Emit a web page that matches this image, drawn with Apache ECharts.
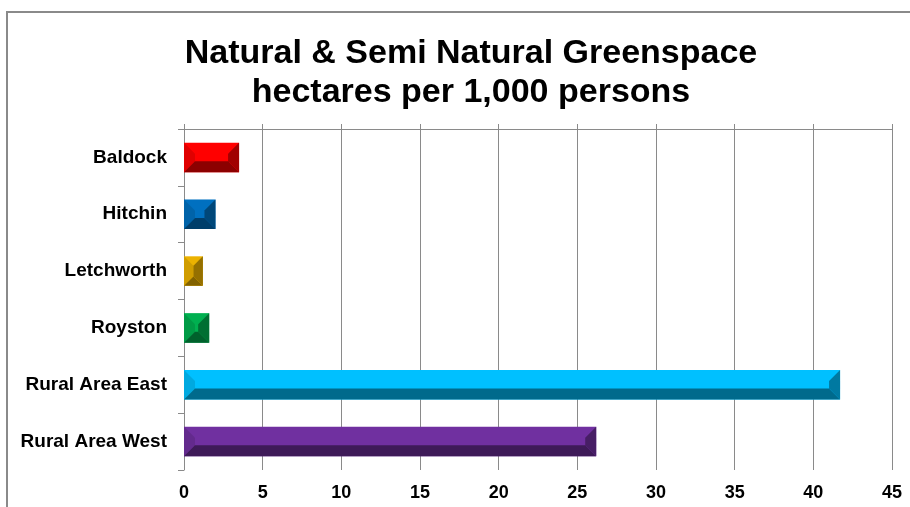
<!DOCTYPE html>
<html>
<head>
<meta charset="utf-8">
<script src="https://cdn.jsdelivr.net/npm/echarts@6/dist/echarts.min.js"></script>
<style>
  html, body { margin: 0; padding: 0; background: #fff; }
  #chart { width: 910px; height: 507px; }
</style>
</head>
<body>
<div id="chart"></div>
<script>
// hectares per 1,000 persons
const categories = ['Baldock', 'Hitchin', 'Letchworth', 'Royston', 'Rural Area East', 'Rural Area West'];
const values = [3.5, 2.0, 1.2, 1.6, 41.7, 26.2];
const xTicks = [0, 5, 10, 15, 20, 25, 30, 35, 40, 45];

const palette = ['#ff0000', '#0070c0', '#ecb200', '#00b050', '#00c0ff', '#7030a0'];

// darken a hex colour by factor k
function shade(hex, k) {
    const n = parseInt(hex.slice(1), 16);
    const r = Math.round(((n >> 16) & 255) * k);
    const g = Math.round(((n >> 8) & 255) * k);
    const b = Math.round((n & 255) * k);
    return `rgb(${r}, ${g}, ${b})`;
}

const chart = echarts.init(document.getElementById('chart'));

chart.setOption({
    backgroundColor: '#fff',
    animation: false,
    textStyle: { fontFamily: 'Liberation Sans, Arial, sans-serif' },
    graphic: [{
        type: 'rect',
        shape: { x: 7, y: 12, width: 1000, height: 1000 },
        style: { fill: 'none', stroke: '#8a8a8a', lineWidth: 2 },
        silent: true
    }],
    title: {
        text: 'Natural & Semi Natural Greenspace\nhectares per 1,000 persons',
        left: 466,
        top: 29,
        textAlign: 'center',
        textStyle: {
            fontSize: 34,
            fontWeight: 'bold',
            color: '#000',
            lineHeight: 39,
            fontFamily: 'Liberation Sans, Arial, sans-serif'
        }
    },
    grid: {
        left: 184,
        right: 18,
        top: 129,
        bottom: 37
    },
    xAxis: [
        {
            type: 'value',
            min: xTicks[0],
            max: xTicks[xTicks.length - 1],
            interval: 5,
            position: 'bottom',
            axisLine: { show: false },
            axisTick: { show: false },
            axisLabel: {
                margin: 14,
                fontSize: 18,
                fontWeight: 'bold',
                color: '#000'
            },
            splitLine: {
                show: true,
                lineStyle: { color: '#8a8a8a', width: 1 }
            }
        },
        {
            type: 'value',
            min: xTicks[0],
            max: xTicks[xTicks.length - 1],
            interval: 5,
            position: 'top',
            axisLine: { show: true, lineStyle: { color: '#8a8a8a', width: 1 } },
            axisTick: { show: true, length: 5, lineStyle: { color: '#8a8a8a' } },
            axisLabel: { show: false },
            splitLine: { show: false }
        }
    ],
    yAxis: {
        type: 'category',
        inverse: true,
        data: categories,
        axisLine: { show: true, lineStyle: { color: '#8a8a8a', width: 1 } },
        axisTick: { show: true, length: 6, lineStyle: { color: '#8a8a8a' } },
        axisLabel: {
            margin: 17,
            fontSize: 19,
            fontWeight: 'bold',
            color: '#000'
        }
    },
    series: [{
        type: 'custom',
        xAxisIndex: 0,
        encode: { x: 1, y: 0 },
        data: values.map((v, i) => [i, v]),
        renderItem: (params, api) => {
            const idx = api.value(0);
            const start = api.coord([0, idx]);
            const end = api.coord([api.value(1), idx]);
            const h = api.size([0, 1])[1] * 0.52;
            const x0 = start[0], x1 = end[0];
            const y0 = end[1] - h / 2, y1 = end[1] + h / 2;
            const b = Math.min(11, (x1 - x0) / 2, h / 2);
            const base = palette[idx];
            return {
                type: 'group',
                children: [
                    {
                        type: 'rect',
                        shape: { x: x0, y: y0, width: x1 - x0, height: h },
                        style: { fill: base }
                    },
                    {
                        type: 'polygon',
                        shape: { points: [[x0, y0], [x0 + b, y0 + b], [x0 + b, y1 - b], [x0, y1]] },
                        style: { fill: shade(base, 0.88) }
                    },
                    {
                        type: 'polygon',
                        shape: { points: [[x0, y1], [x1, y1], [x1 - b, y1 - b], [x0 + b, y1 - b]] },
                        style: { fill: shade(base, 0.55) }
                    },
                    {
                        type: 'polygon',
                        shape: { points: [[x1, y0], [x1, y1], [x1 - b, y1 - b], [x1 - b, y0 + b]] },
                        style: { fill: shade(base, 0.63) }
                    }
                ]
            };
        }
    }]
});
</script>
</body>
</html>
